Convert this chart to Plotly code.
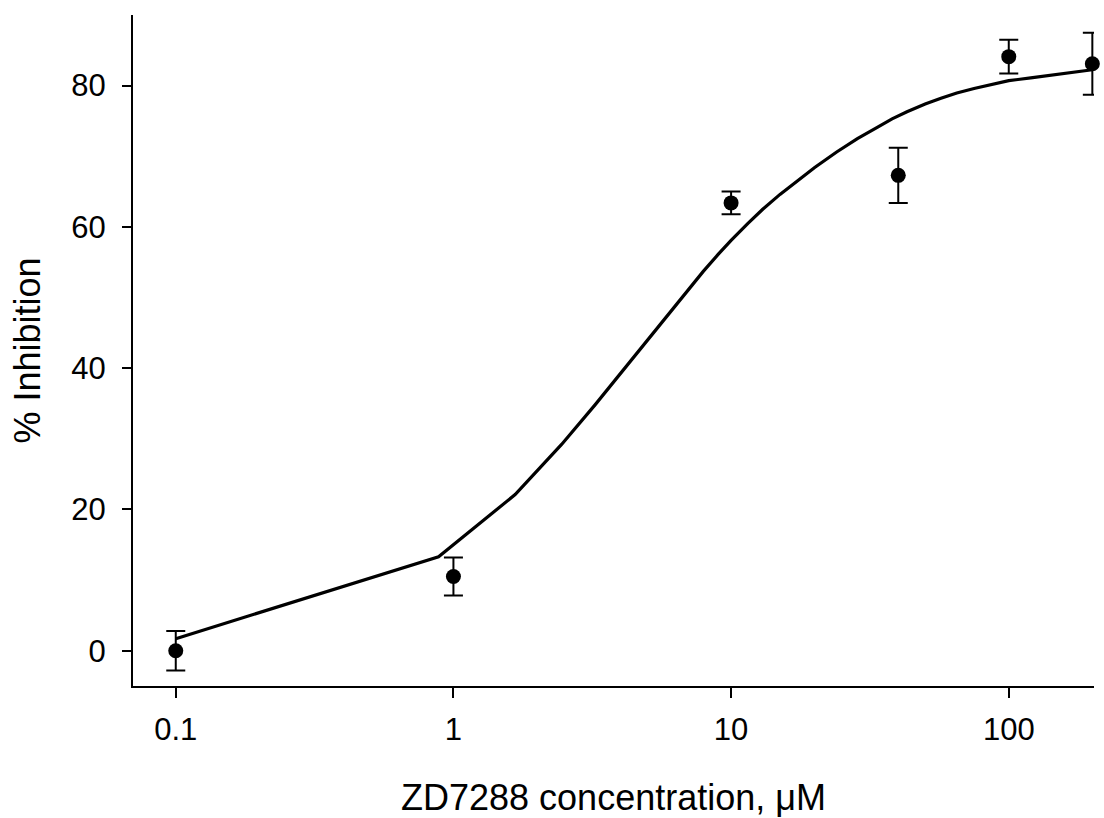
import plotly.graph_objects as go

# Measured data (mean ± SEM)
conc = [0.1, 1, 10, 40, 100, 200]
inhibition = [0.0, 10.5, 63.4, 67.3, 84.1, 83.1]
sem = [2.8, 2.7, 1.6, 3.9, 2.4, 4.4]

# Fitted curve
fit_x = [0.1, 0.884, 1.668, 2.452, 3.236, 4.02, 4.80, 5.59, 6.37, 7.16, 7.94, 8.98,
         10, 11.5, 13, 15, 17, 20, 24, 28.5, 33.6, 38, 43, 50, 57, 65, 75, 85,
         100, 120, 150, 175, 200]
fit_y = [1.7, 13.3, 22.1, 29.2, 34.8, 39.4, 43.1, 46.3, 49.0, 51.5, 53.7, 56.1,
         58.1, 60.5, 62.5, 64.6, 66.3, 68.4, 70.6, 72.5, 74.1, 75.3, 76.3, 77.4,
         78.2, 78.95, 79.6, 80.1, 80.7, 81.1, 81.6, 81.95, 82.25]

x_tickvals = [0.1, 1, 10, 100]
x_ticktext = ["0.1", "1", "10", "100"]
y_tickvals = [0, 20, 40, 60, 80]

FONT = "Liberation Sans, Arial, sans-serif"

fig = go.Figure()
fig.add_trace(go.Scatter(
    x=fit_x, y=fit_y, mode="lines",
    line=dict(color="black", width=3.2),
    hoverinfo="skip", showlegend=False,
))
fig.add_trace(go.Scatter(
    x=conc, y=inhibition, mode="markers",
    marker=dict(color="black", size=15),
    error_y=dict(type="data", array=sem, visible=True, color="black",
                 thickness=2, width=9.5),
    cliponaxis=False, showlegend=False,
))

fig.update_layout(
    width=1104, height=818,
    margin=dict(l=133, r=10, t=15, b=132),
    paper_bgcolor="white", plot_bgcolor="white",
    font=dict(family=FONT, color="black"),
)
fig.update_xaxes(
    type="log", range=[-1.154, 2.307], automargin=False,
    tickvals=x_tickvals, ticktext=x_ticktext,
    ticks="outside", ticklen=10, tickwidth=2, tickcolor="black",
    showline=True, linewidth=2, linecolor="black", mirror=False,
    showgrid=False, zeroline=False,
    tickfont=dict(size=31, family=FONT),
    ticklabelstandoff=5,
    title=dict(text="ZD7288 concentration, \u03bcM", font=dict(size=36, family=FONT), standoff=39),
)
fig.update_yaxes(
    range=[-5, 90], automargin=False,
    tickvals=y_tickvals,
    ticks="outside", ticklen=9, tickwidth=2, tickcolor="black",
    showline=True, linewidth=2, linecolor="black", mirror=False,
    showgrid=False, zeroline=False,
    tickfont=dict(size=31, family=FONT),
    ticklabelstandoff=10,
    title=dict(text="% Inhibition", font=dict(size=36, family=FONT), standoff=20),
)

fig.write_html("out.html")
